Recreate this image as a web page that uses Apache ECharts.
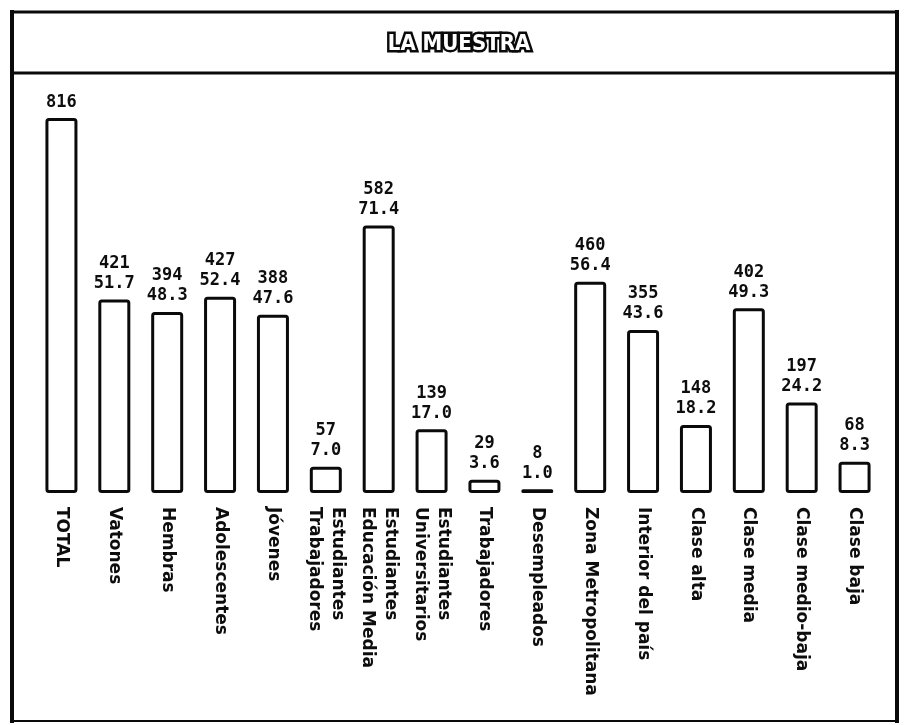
<!DOCTYPE html>
<html>
<head>
<meta charset="utf-8">
<script src="https://cdn.jsdelivr.net/npm/echarts@6/dist/echarts.min.js"></script>
<style>
  html, body { margin: 0; padding: 0; background: #ffffff; }
  #chart { width: 907px; height: 725px; }
</style>
</head>
<body>
<div id="chart"></div>
<script>
var titleText = 'LA MUESTRA';
var categories = [
  'TOTAL', 'Vatones', 'Hembras', 'Adolescentes', 'Jóvenes',
  'Estudiantes\nTrabajadores', 'Estudiantes\nEducación Media', 'Estudiantes\nUniversitarios',
  'Trabajadores', 'Desempleados', 'Zona Metropolitana', 'Interior del país',
  'Clase alta', 'Clase media', 'Clase medio-baja', 'Clase baja'
];
var counts = [816, 421, 394, 427, 388, 57, 582, 139, 29, 8, 460, 355, 148, 402, 197, 68];
var percents = [null, '51.7', '48.3', '52.4', '47.6', '7.0', '71.4', '17.0', '3.6', '1.0', '56.4', '43.6', '18.2', '49.3', '24.2', '8.3'];

var chart = echarts.init(document.getElementById('chart'), null, { renderer: 'canvas' });

function frameLine(x1, y1, x2, y2, w) {
  return { type: 'line', silent: true, z: 10,
    shape: { x1: x1, y1: y1, x2: x2, y2: y2 },
    style: { stroke: '#0a0a0a', lineWidth: w } };
}

var option = {
  backgroundColor: '#ffffff',
  animation: false,
  grid: { left: 35, right: 26, top: 79.5, bottom: 232, containLabel: false },
  xAxis: {
    type: 'category',
    data: categories,
    axisLine: { show: false },
    axisTick: { show: false },
    axisLabel: {
      interval: 0,
      rotate: -90,
      margin: 14,
      fontFamily: 'DejaVu Sans',
      fontWeight: 'bold',
      fontSize: 17,
      lineHeight: 23,
      color: '#0d0d0d'
    }
  },
  yAxis: {
    type: 'value', min: 0, max: 900,
    show: false,
    splitLine: { show: false }
  },
  series: [{
    type: 'bar',
    data: counts,
    barWidth: 32,
    itemStyle: {
      color: '#ffffff',
      borderColor: '#0a0a0a',
      borderWidth: 3,
      borderRadius: 2
    },
    label: {
      show: true,
      position: 'top',
      distance: 6,
      fontFamily: 'DejaVu Sans Mono',
      fontWeight: 'bold',
      fontSize: 17,
      lineHeight: 20,
      color: '#0d0d0d',
      formatter: function (p) {
        var pc = percents[p.dataIndex];
        return pc === null ? String(counts[p.dataIndex]) : counts[p.dataIndex] + '\n' + pc;
      }
    }
  }],
  graphic: [
    frameLine(10, 12, 899, 12, 3),
    frameLine(10, 73, 899, 73, 3),
    frameLine(12, 10, 12, 723, 4),
    frameLine(897, 10, 897, 723, 4),
    frameLine(10, 721, 899, 721, 2),
    {
      type: 'text', silent: true, z: 11,
      x: 459, y: 44,
      style: {
        text: titleText,
        x: 0, y: 0,
        align: 'center',
        verticalAlign: 'middle',
        font: 'bold 22px "DejaVu Sans Condensed", "DejaVu Sans"',
        fill: '#ffffff',
        stroke: '#0a0a0a',
        lineWidth: 5,
        strokeFirst: true
      }
    }
  ]
};
chart.setOption(option);
</script>
</body>
</html>
